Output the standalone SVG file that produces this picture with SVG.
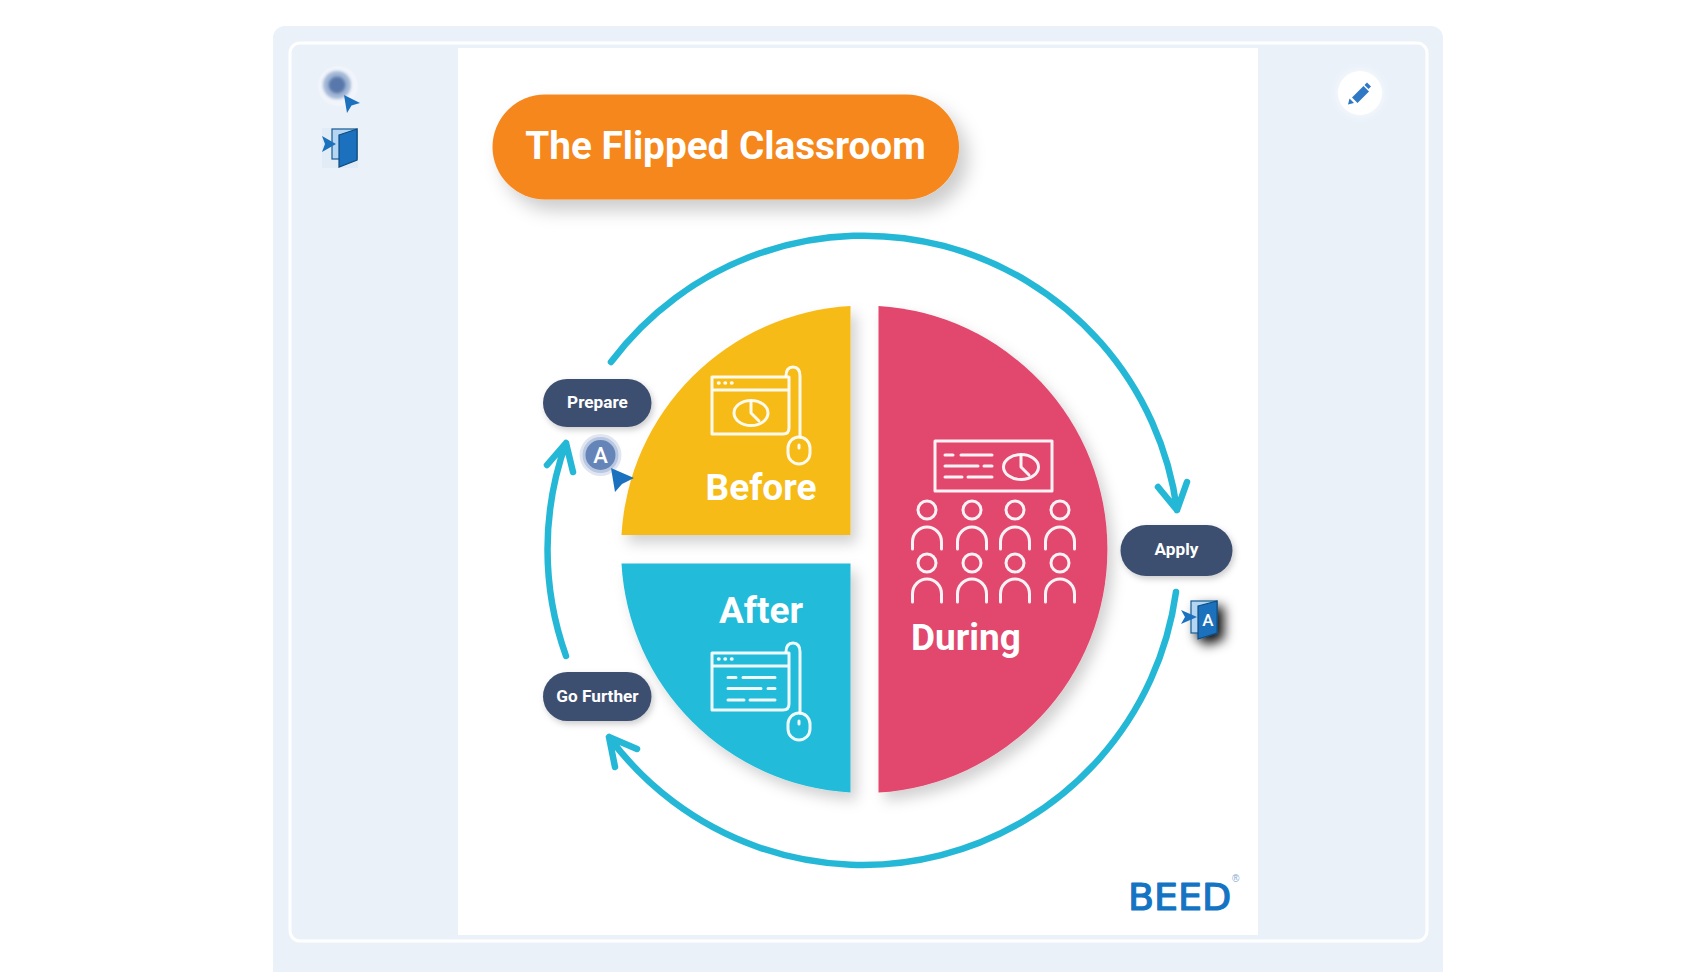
<svg xmlns="http://www.w3.org/2000/svg" width="1686" height="972" viewBox="0 0 1686 972">
<style>
text{font-family:Roboto,"Liberation Sans",sans-serif;font-weight:700;fill:#fff}
.label{font-size:17.2px;text-anchor:middle}
.big{font-size:37px}
.ic{fill:none;stroke:#fff;stroke-width:3;stroke-linecap:round;stroke-linejoin:round;stroke-opacity:.93}
.ring{fill:none;stroke:#25b8d6;stroke-width:6.500;stroke-linecap:round;stroke-linejoin:round}
.pill{fill:#3e4f6f}
.cur{fill:#1b71bd}
</style>
<defs>
<filter id="sh" x="-20%" y="-20%" width="150%" height="150%"><feDropShadow dx="6" dy="8" stdDeviation="7" flood-color="#000" flood-opacity=".18"/></filter>
<filter id="shs" x="-20%" y="-30%" width="140%" height="170%"><feDropShadow dx="2" dy="3" stdDeviation="3" flood-color="#000" flood-opacity=".2"/></filter>
<filter id="sht" x="-20%" y="-30%" width="140%" height="170%"><feDropShadow dx="9" dy="11" stdDeviation="9" flood-color="#000" flood-opacity=".2"/></filter>
<filter id="shk" x="-80%" y="-80%" width="300%" height="300%"><feDropShadow dx="6" dy="6" stdDeviation="6" flood-color="#000" flood-opacity=".95"/></filter>
<filter id="soft" x="-40%" y="-40%" width="180%" height="180%"><feGaussianBlur stdDeviation="1.8"/></filter>
<filter id="glow" x="-40%" y="-40%" width="180%" height="180%"><feDropShadow dx="0" dy="0" stdDeviation="5" flood-color="#fff" flood-opacity=".8"/></filter>
<g id="winmouse" class="ic">
<path d="M712 377H789V428Q789 434 783 434H712ZM712 390H789"/>
<path d="M786 376Q786 367 793 367Q800 367 800 376V437"/>
<rect x="788" y="437" width="22" height="27" rx="11"/>
<path d="M799 445V448"/>
<path d="M718.500 383h.5M725 383h.5M731.500 383h.5" stroke-width="3.500"/>
</g>
</defs>

<rect width="1686" height="972" fill="#fff"/>
<rect id="panel" x="273" y="26" width="1170" height="990" rx="12" fill="#eaf1f9"/>
<rect id="frame" x="290" y="43" width="1137" height="898" rx="10" fill="#eaf1f9" stroke="#fff" stroke-width="3"/>
<rect id="sheet" x="458" y="48" width="800" height="887" fill="#fff"/>

<g id="title">
<rect x="492.500" y="94.500" width="466.500" height="105" rx="52.500" fill="#f5871f" filter="url(#sht)"/>
<text x="725.500" y="159" font-size="38.700" text-anchor="middle">The Flipped Classroom</text>
</g>

<g id="connectors">
<path class="ring" d="M611 362A316 316 0 0 1 1177 510M1158 487L1177 510L1187 482"/>
<path class="ring" d="M1176 592A316 316 0 0 1 609 737M637 749L609 737L615 767"/>
<path class="ring" d="M566 656A316 316 0 0 1 566 443M547 465L566 443L573 472"/>
</g>

<g id="before">
<path d="M850.500 306A243 243 0 0 0 621.500 535H850.500Z" fill="#f6bb19" filter="url(#sh)"/>
<use href="#winmouse"/>
<ellipse class="ic" cx="751" cy="413" rx="17" ry="12.500"/>
<path class="ic" d="M751 401V413L759 421"/>
<text class="big" x="761" y="500" text-anchor="middle">Before</text>
</g>

<g id="after">
<path d="M850.500 792.500A243 243 0 0 1 621.500 563.500H850.500Z" fill="#20bbd9" filter="url(#sh)"/>
<use href="#winmouse" y="276"/>
<path class="ic" d="M728 677.500h8M743 677.500h32M728 688.500h33M768 688.500h7M728 700h16M750 700h25"/>
<text class="big" x="761" y="623" text-anchor="middle">After</text>
</g>

<g id="during">
<path d="M878.500 306A243.700 243.700 0 0 1 878.500 792.500Z" fill="#e2466d" filter="url(#sh)"/>
<rect class="ic" x="935" y="441" width="117" height="50"/>
<path class="ic" d="M945 455h8M961 455h31M945 466h33M984 466h8M945 477h17M968 477h24"/>
<ellipse class="ic" cx="1021" cy="467" rx="17.500" ry="12.500"/>
<path class="ic" d="M1021 455V467L1029 475"/>
<g class="ic">
<circle cx="927" cy="510" r="9"/><circle cx="972" cy="510" r="9"/><circle cx="1015" cy="510" r="9"/><circle cx="1060" cy="510" r="9"/>
<circle cx="927" cy="563" r="9"/><circle cx="972" cy="563" r="9"/><circle cx="1015" cy="563" r="9"/><circle cx="1060" cy="563" r="9"/>
<path d="M912.500 549V542A14.500 15 0 0 1 941.500 542V549M957.500 549V542A14.500 15 0 0 1 986.500 542V549M1000.500 549V542A14.500 15 0 0 1 1029.500 542V549M1045.500 549V542A14.500 15 0 0 1 1074.500 542V549"/>
<path d="M912.500 602V594A14.500 15 0 0 1 941.500 594V602M957.500 602V594A14.500 15 0 0 1 986.500 594V602M1000.500 602V594A14.500 15 0 0 1 1029.500 594V602M1045.500 602V594A14.500 15 0 0 1 1074.500 594V602"/>
</g>
<text class="big" x="911" y="650">During</text>
</g>

<g id="prepare">
<rect class="pill" x="543" y="379" width="108.500" height="48" rx="24" filter="url(#shs)"/>
<text class="label" x="597.500" y="408">Prepare</text>
</g>
<g id="go-further">
<rect class="pill" x="543" y="672" width="108.500" height="49" rx="24.500" filter="url(#shs)"/>
<text class="label" x="597.500" y="701.500">Go Further</text>
</g>
<g id="apply">
<rect class="pill" x="1120.500" y="525" width="112" height="51" rx="25.500" filter="url(#shs)"/>
<text class="label" x="1176.500" y="555">Apply</text>
</g>

<g id="logo">
<text x="1128" y="910" font-size="38" style="font-family:'DejaVu Sans',sans-serif;font-weight:400;fill:#1474c4;stroke:#1474c4;stroke-width:1.200;stroke-linejoin:round">BEED</text>
<text x="1232" y="882" style="font-family:'Liberation Sans',sans-serif;font-weight:400;fill:#7fa9cf" font-size="10">®</text>
</g>

<g id="pointer-top">
<circle cx="338" cy="86" r="20" fill="#f1f5fb"/>
<circle cx="337" cy="85" r="14" fill="#a3b7d6" filter="url(#soft)"/>
<circle cx="337" cy="85" r="8.500" fill="#5878ab" filter="url(#soft)"/>
<path class="cur" d="M344 95L360 103L351.500 105.500L347 113Z"/>
</g>
<g id="door-top">
<rect x="322" y="128" width="36" height="40" fill="#e2ecf7"/>
<rect x="332" y="129" width="25" height="30" fill="#b5d6f2" stroke="#1a5a92" stroke-width="1.200"/>
<path d="M339 135L357 129V160L339 167Z" fill="#1b71bd" stroke="#0f4c81" stroke-width="1.200"/>
<path class="cur" d="M322 136L336 144L322 152L325 144Z"/>
</g>
<g id="pointer-a">
<circle cx="600.500" cy="455" r="21" fill="#dfe6f2"/>
<circle cx="600.500" cy="455" r="18" fill="#b9c7e0"/>
<circle cx="600.500" cy="455" r="15" fill="#6584b8"/>
<text x="600.500" y="463" font-size="22" text-anchor="middle" style="font-weight:500">A</text>
<path class="cur" d="M611 468L634 478L622 484L615 492Z"/>
</g>
<g id="door-a">
<g filter="url(#shk)">
<rect x="1191" y="601" width="26" height="32" fill="#b5d6f2" stroke="#1a5a92" stroke-width="1.200"/>
<path d="M1198 606L1217 601V633L1198 639Z" fill="#1b71bd" stroke="#0f4c81" stroke-width="1.200"/>
</g>
<path class="cur" d="M1181 610L1197 617L1181 624L1185 617Z"/>
<text x="1208" y="626" font-size="17" text-anchor="middle" style="font-weight:500">A</text>
</g>
<g id="pencil">
<circle cx="1360" cy="93" r="22" fill="#fff" filter="url(#glow)"/>
<path d="M1348 104.500L1349.500 98.500L1354 103Z" fill="#2f78c4"/>
<path d="M1352 97.500L1363.500 86L1369 91.500L1357.500 103Z" fill="#2f78c4"/>
<path d="M1364.500 85L1367 82.500L1371 86.500L1368.500 89Z" fill="#2f78c4"/>
</g>
</svg>
